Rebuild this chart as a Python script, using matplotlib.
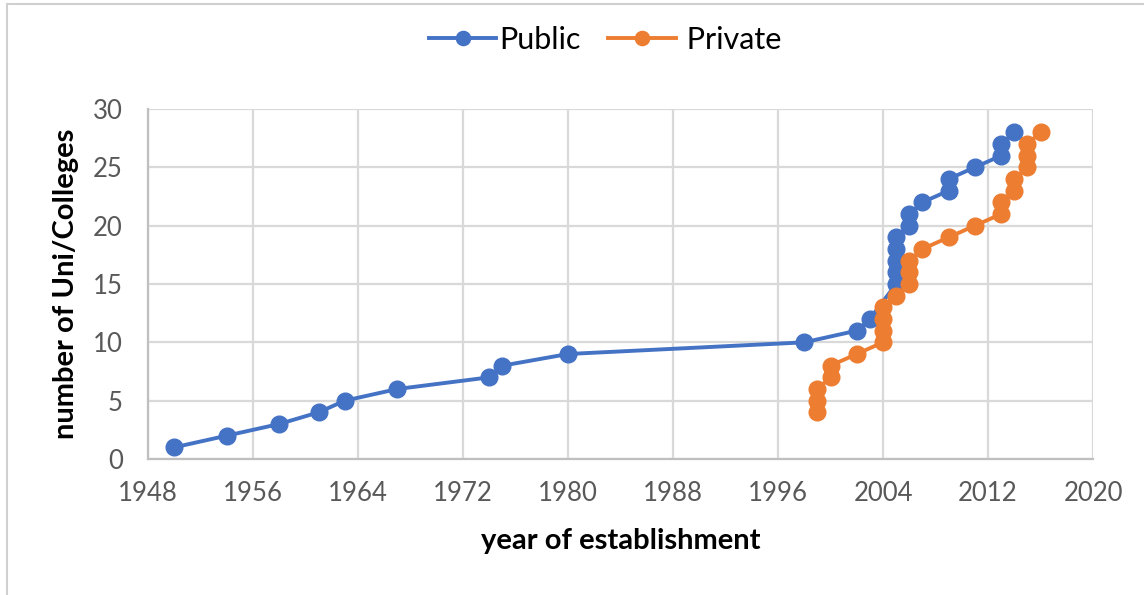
import matplotlib
matplotlib.use("Agg")
import matplotlib.pyplot as plt
from matplotlib.lines import Line2D

public_years = [1950, 1954, 1958, 1961, 1963, 1967, 1974, 1975, 1980, 1998, 2002, 2003,
                2005, 2005, 2005, 2005, 2005, 2006, 2006, 2007, 2009, 2009, 2011, 2013, 2013, 2014]
public_counts = [1, 2, 3, 4, 5, 6, 7, 8, 9, 10, 11, 12,
                 15, 16, 17, 18, 19, 20, 21, 22, 23, 24, 25, 26, 27, 28]
private_years = [1999, 1999, 1999, 2000, 2000, 2002, 2004, 2004, 2004, 2004, 2005,
                 2006, 2006, 2006, 2007, 2009, 2011, 2013, 2013, 2014, 2014, 2015, 2015, 2015, 2016]
private_counts = [4, 5, 6, 7, 8, 9, 10, 11, 12, 13, 14,
                  15, 16, 17, 18, 19, 20, 21, 22, 23, 24, 25, 26, 27, 28]
x_ticks = [1948, 1956, 1964, 1972, 1980, 1988, 1996, 2004, 2012, 2020]
y_ticks = [0, 5, 10, 15, 20, 25, 30]

plt.rcParams['font.family'] = ['Lato', 'DejaVu Sans']

fig = plt.figure(figsize=(11.44, 5.95), dpi=100)
ax = fig.add_axes([148/1144, 1-459/595, (1093-148)/1144, (459-109)/595])

blue = '#4472C4'
orange = '#ED7D31'
ax.plot(public_years, public_counts, color=blue, lw=2.8, marker='o', ms=12,
        label='Public', zorder=3)
ax.plot(private_years, private_counts, color=orange, lw=2.8, marker='o', ms=12,
        label=' Private', zorder=3)

ax.set_xlim(1948, 2020)
ax.set_ylim(0, 30)
ax.set_xticks(x_ticks)
ax.set_yticks(y_ticks)
ax.grid(True, color='#D9D9D9', lw=1.6)
ax.set_axisbelow(True)
for s in ['top', 'right']:
    ax.spines[s].set_visible(False)
for s in ['left', 'bottom']:
    ax.spines[s].set_color('#BFBFBF')
    ax.spines[s].set_linewidth(1.6)
ax.tick_params(axis='x', length=0, labelsize=18.5, labelcolor='#595959', pad=16)
ax.tick_params(axis='y', length=0, labelsize=18.5, labelcolor='#595959', pad=18)
ax.set_xlabel('year of establishment', fontsize=21, fontweight='bold', labelpad=16)
ax.set_ylabel('number of Uni/Colleges', fontsize=21, fontweight='bold', labelpad=10)

fig.legend(loc='center', bbox_to_anchor=(0.529, 1-40/595), ncol=2, frameon=False,
           fontsize=22, handlelength=2.2, columnspacing=0.9, handletextpad=0.1,
           markerscale=0.85, borderpad=0)

fig.add_artist(Line2D([7/1144, 7/1144], [0, 1-4/595], transform=fig.transFigure,
                      color='#D0D0D0', lw=1.5))
fig.add_artist(Line2D([7/1144, 1], [1-4/595, 1-4/595], transform=fig.transFigure,
                      color='#D0D0D0', lw=1.5))

fig.savefig('out.png', dpi=100)
